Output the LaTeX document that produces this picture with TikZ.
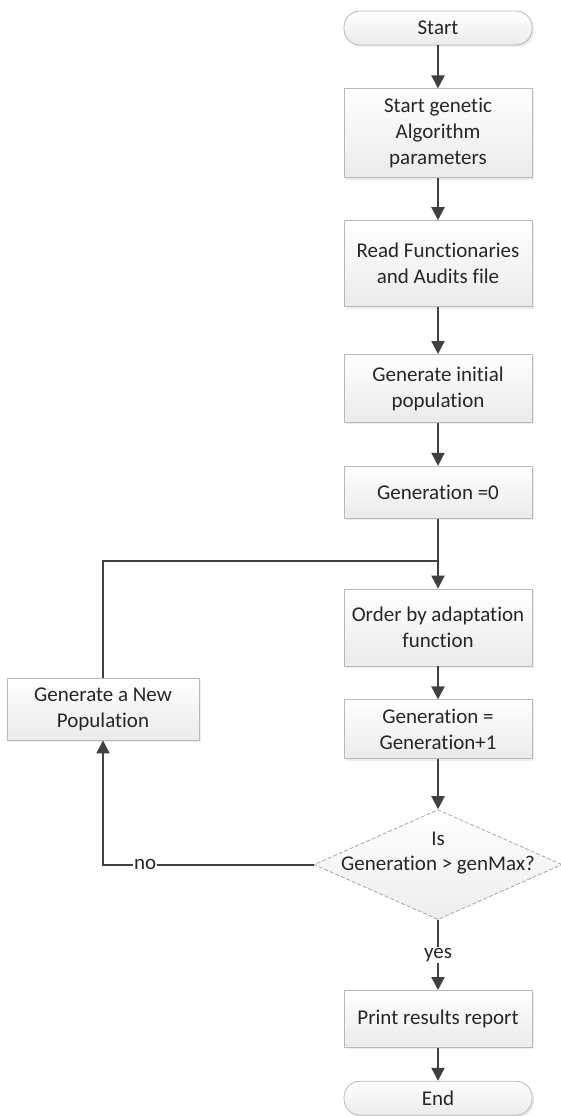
\documentclass[tikz,border=0pt]{standalone}
\usepackage{fontspec}
\setmainfont{Carlito}[Ligatures=NoCommon]
\usetikzlibrary{arrows.meta,positioning,shapes.geometric,shadows}

\definecolor{linegray}{HTML}{404040}
\definecolor{boxgray}{HTML}{B8B8B8}

\begin{document}
\begin{tikzpicture}[x=1pt,y=1pt,
                    >={Triangle[width=13pt,length=13pt]},
                    line/.style={draw=linegray, line width=2.2pt},
                    box/.style={rectangle, draw=boxgray, line width=0.8pt,
                      top color=white, bottom color=gray!16,
                      drop shadow={shadow xshift=2pt, shadow yshift=-2pt, fill=gray!30},
                      minimum width=188pt, align=center, inner sep=4pt,
                      text=black!85, font=\fontsize{21}{26}\selectfont},
                    term/.style={box, rounded corners=16pt, minimum height=34pt},
                    decision/.style={diamond, draw=gray!70, line width=0.8pt,
                      dash pattern=on 4pt off 2pt,
                      top color=white, bottom color=gray!14,
                      minimum width=248pt, minimum height=110pt, inner sep=0pt},
                    tag/.style={fill=white, inner sep=1pt, text=black!85, font=\fontsize{21}{24}\selectfont}]

  \useasboundingbox (0,0) rectangle (561,-1116);

  %Main column%
  \node[term] (start) at (438,-28) {Start};
  \node[box, minimum height=89pt, below=43pt of start] (params) {Start genetic\\Algorithm\\parameters};
  \node[box, minimum height=86pt, below=42pt of params] (read) {Read Functionaries\\and Audits file};
  \node[box, minimum height=68pt, below=47pt of read] (init) {Generate initial\\population};
  \node[box, minimum height=52pt, below=43pt of init] (gen0) {Generation =0};
  \coordinate[below=42pt of gen0] (merge);
  \node[box, minimum height=77pt, below=70pt of gen0] (order) {Order by adaptation\\function};
  \node[box, minimum height=59pt, below=33pt of order] (incr) {Generation =\\Generation+1};
  \node[decision, below=50pt of incr,
        label={[align=center, yshift=12pt, text=black!85, font=\fontsize{21}{25}\selectfont]center:Is\\Generation > genMax?}] (test) {};
  \node[box, minimum height=57pt, below=70pt of test] (report) {Print results report};
  \node[term, below=33pt of report] (end) {End};

  %Loop back%
  \node[box, minimum width=192pt, minimum height=62pt] (newpop) at (103,-709) {Generate a New\\Population};

  \draw[line,->] (start) -- (params);
  \draw[line,->] (params) -- (read);
  \draw[line,->] (read) -- (init);
  \draw[line,->] (init) -- (gen0);
  \draw[line,->] (gen0) -- (order);
  \draw[line,->] (order) -- (incr);
  \draw[line,->] (incr) -- (test);
  \draw[line,->] (test) -- node[tag] {yes} (report);
  \draw[line,->] (report) -- (end);
  \draw[line,->] (test.west) -| node[tag, pos=0.4] {no} (newpop.south);
  \draw[line] (merge) -| (newpop.north);
\end{tikzpicture}
\end{document}
